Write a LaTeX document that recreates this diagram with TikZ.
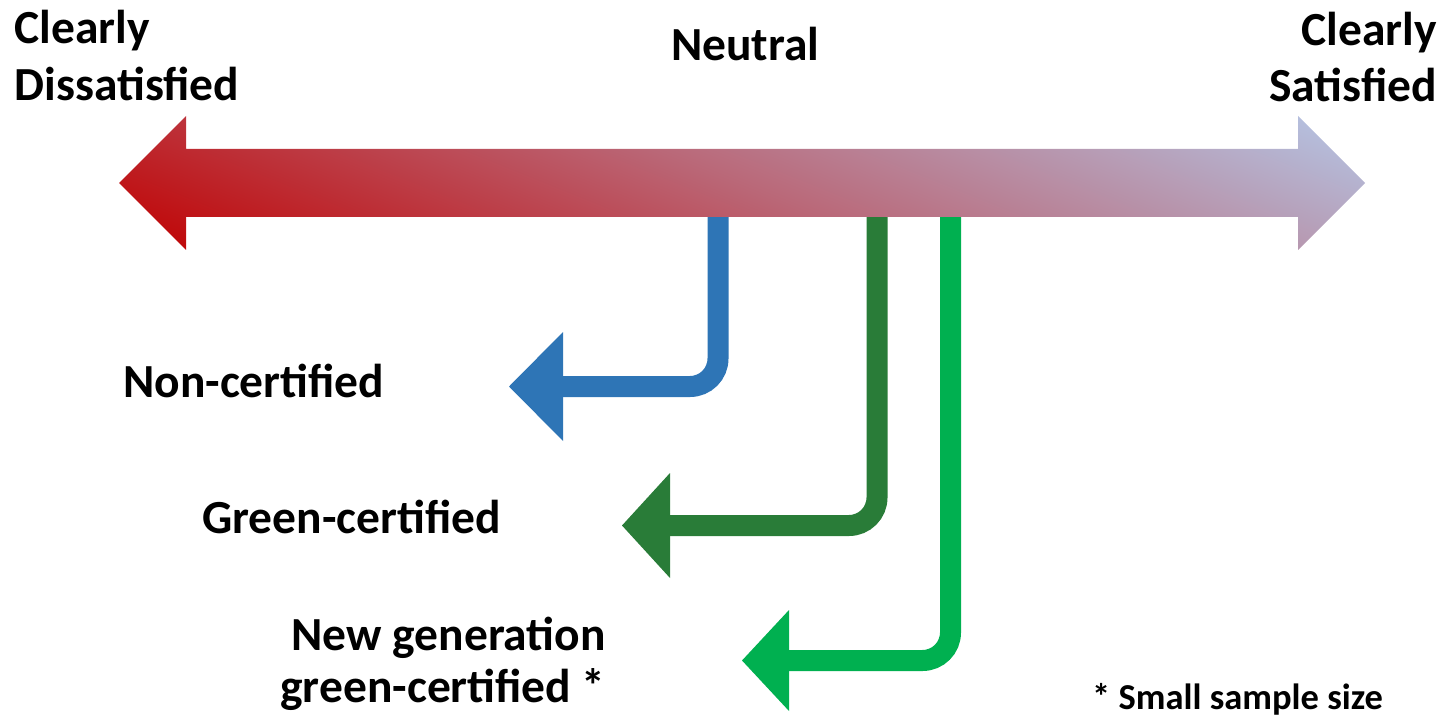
\documentclass[tikz,border=0pt]{standalone}
\usepackage{fontspec}
\setmainfont{Carlito}
\usetikzlibrary{arrows.meta}
\definecolor{barred}{RGB}{192,0,0}
\definecolor{barmid}{RGB}{186,104,120}
\definecolor{barblue}{RGB}{180,199,231}
\definecolor{cblue}{RGB}{46,117,182}
\definecolor{cdkgreen}{RGB}{41,124,56}
\definecolor{cgreen}{RGB}{0,176,80}
\begin{document}
\begin{tikzpicture}[x=1pt,y=-1pt,
  lbl/.style={inner sep=0pt, font=\fontsize{47.5}{56}\selectfont\bfseries},
  note/.style={inner sep=0pt, font=\fontsize{36.5}{44}\selectfont\bfseries},
  conn/.style={line width=21pt, rounded corners=28pt},
]
\useasboundingbox (0,0) rectangle (1447,719);
% connector end points
\coordinate (b1) at (718,210);
\coordinate (t1) at (509,386.5);
\coordinate (b2) at (877,210);
\coordinate (t2) at (622,525.5);
\coordinate (b3) at (950.5,210);
\coordinate (t3) at (742,660.5);
\draw[conn, cblue, -{Triangle[length=54pt,width=109pt,line width=0pt]}] (b1) |- (t1);
\draw[conn, cdkgreen, -{Triangle[length=48pt,width=105pt,line width=0pt]}] (b2) |- (t2);
\draw[conn, cgreen, -{Triangle[length=47pt,width=101pt,line width=0pt]}] (b3) |- (t3);
% double arrow with a diagonal gradient
\coordinate (Ltip) at (119,183);
\coordinate (Rtip) at (1365,183);
\coordinate (barc) at (742,183);
\begin{scope}
  \clip (Ltip) -- (186,116) -- (186,149) -- (1298,149) -- (1298,116) -- (Rtip)
    -- (1298,250) -- (1298,217) -- (186,217) -- (186,250) -- cycle;
  \shade[transform canvas={rotate around={68:(barc)}},
    left color=barred, right color=barblue, middle color=barmid]
    (446.5,-517) rectangle (1037.5,883);
\end{scope}
% labels
\node[lbl, anchor=base west] (cd1) at (14.5,44) {Clearly};
\node[lbl, anchor=base west] (cd2) at (14.5,101) {Dissatisfied};
\node[lbl, anchor=base west] (neu) at (671,61) {Neutral};
\node[lbl, anchor=base east] (cs1) at (1437,46) {Clearly};
\node[lbl, anchor=base east] (cs2) at (1437,102) {Satisfied};
\node[lbl, anchor=base west] (nc) at (123,397) {Non-certified};
\node[lbl, anchor=base west] (gc) at (202,533) {Green-certified};
\node[lbl, anchor=base east] (ng1) at (606,650) {New generation};
\node[lbl, anchor=base east] (ng2) at (606,702) {green-certified *};
\node[note, anchor=base west] (ss) at (1092,709) {* Small sample size};
\end{tikzpicture}
\end{document}
